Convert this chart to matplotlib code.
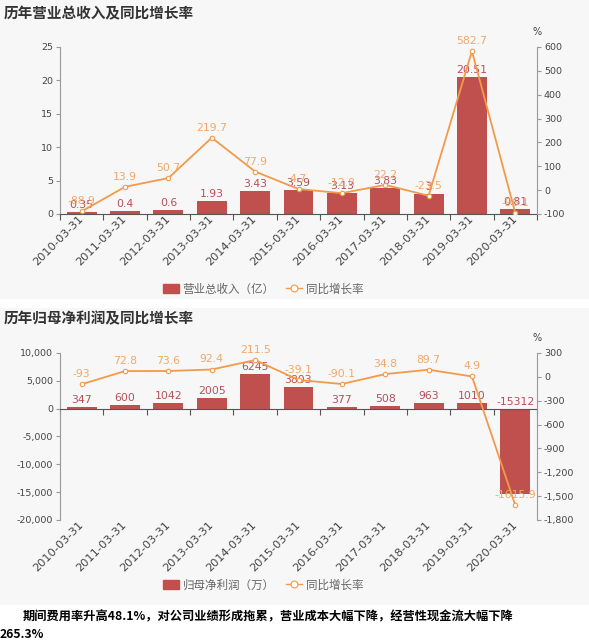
import matplotlib
matplotlib.use("Agg")
import matplotlib.pyplot as plt
import matplotlib.patches as mpatches
import matplotlib.transforms as mtransforms
from matplotlib.lines import Line2D
from matplotlib.ticker import FuncFormatter
import numpy as np

plt.rcParams['font.family'] = ['DejaVu Sans', 'Noto Sans CJK SC']

dates = ["2010-03-31", "2011-03-31", "2012-03-31", "2013-03-31", "2014-03-31",
         "2015-03-31", "2016-03-31", "2017-03-31", "2018-03-31", "2019-03-31",
         "2020-03-31"]
revenue = [0.35, 0.4, 0.6, 1.93, 3.43, 3.59, 3.13, 3.83, 3.0, 20.51, 0.81]
revenue_labels = ["0.35", "0.4", "0.6", "1.93", "3.43", "3.59", "3.13", "3.83", "3", "20.51", "0.81"]
revenue_growth = [-88.9, 13.9, 50.7, 219.7, 77.9, 4.7, -12.8, 22.2, -23.5, 582.7, -96.1]
profit = [347, 600, 1042, 2005, 6245, 3803, 377, 508, 963, 1010, -15312]
profit_growth = [-93, 72.8, 73.6, 92.4, 211.5, -39.1, -90.1, 34.8, 89.7, 4.9, -1615.9]

title1 = "历年营业总收入及同比增长率"
title2 = "历年归母净利润及同比增长率"
legend_bar1 = "营业总收入（亿）"
legend_bar2 = "归母净利润（万）"
legend_line = "同比增长率"
note_line1 = "期间费用率升高48.1%，对公司业绩形成拖累，营业成本大幅下降，经营性现金流大幅下降"
note_line2 = "265.3%"

BAR = "#c0504d"
BAR_TXT = "#b5505a"
LINE = "#f29a4a"
LINE_TXT = "#f2a86a"
SPINE = "#999999"
TICK_TXT = "#444444"
PANEL = "#f7f7f7"

W, H = 589, 642
fig = plt.figure(figsize=(W / 100, H / 100), dpi=100)
fig.patch.set_facecolor("white")

# panel backgrounds
fig.patches.append(mpatches.Rectangle((0, 1 - 299 / H), 1, 299 / H, transform=fig.transFigure,
                                      facecolor=PANEL, edgecolor="none", zorder=-10))
fig.patches.append(mpatches.Rectangle((0, 1 - 605 / H), 1, (605 - 308) / H, transform=fig.transFigure,
                                      facecolor=PANEL, edgecolor="none", zorder=-10))

x = np.arange(len(dates))
comma = FuncFormatter(lambda v, p: f"{int(v):,}")
shift = mtransforms.ScaledTranslation(-3 / 100, -4 / 100, fig.dpi_scale_trans)


def make_axes(top_px, bottom_px):
    ax = fig.add_axes([60 / W, 1 - bottom_px / H, (537 - 60) / W, (bottom_px - top_px) / H])
    ax.set_facecolor("none")
    ax2 = ax.twinx()
    ax2.set_facecolor("none")
    for a in (ax, ax2):
        a.spines['top'].set_visible(False)
        a.spines['left'].set_color(SPINE)
        a.spines['right'].set_color(SPINE)
        a.spines['bottom'].set_color("#555555")
        a.tick_params(axis='y', labelsize=6.8, colors=SPINE, labelcolor=TICK_TXT, length=3, width=0.8, pad=2)
    ax.spines['right'].set_visible(False)
    ax2.spines['left'].set_visible(False)
    ax2.spines['bottom'].set_visible(False)
    ax.set_xlim(-0.5, len(dates) - 0.5)
    return ax, ax2


def draw(ax, ax2, vals, vlabels, growth, ylim, y2lim, yticks, y2ticks, fmt_left, fmt_right):
    ax.bar(x, vals, width=0.69, color=BAR, zorder=2)
    ax.set_ylim(*ylim)
    ax.set_yticks(yticks)
    ax.yaxis.set_major_formatter(fmt_left)
    span = ylim[1] - ylim[0]
    for xi, v, lab in zip(x, vals, vlabels):
        ax.text(xi, max(v, 0) + span * 0.012, lab, ha='center', va='bottom',
                fontsize=7.8, color=BAR_TXT, zorder=5)
    ax2.plot(x, growth, color=LINE, lw=1.3, marker='o', ms=3.2, mfc='white', mec=LINE,
             mew=0.8, zorder=4)
    ax2.set_ylim(*y2lim)
    ax2.set_yticks(y2ticks)
    ax2.yaxis.set_major_formatter(fmt_right)
    span2 = y2lim[1] - y2lim[0]
    for xi, g in zip(x, growth):
        ax2.text(xi, g + span2 * 0.03, f"{g:g}", ha='center', va='bottom',
                 fontsize=7.8, color=LINE_TXT, zorder=6)
    ax2.text(1.0, 1.06, "%", transform=ax2.transAxes, ha='center', va='bottom',
             fontsize=7, color=TICK_TXT)


def style_xlabels(labels):
    for t in labels:
        t.set_transform(t.get_transform() + shift)


# ---------------- chart 1 ----------------
ax, ax2 = make_axes(47, 214)
draw(ax, ax2, revenue, revenue_labels, revenue_growth, (0, 25), (-100, 600),
     [0, 5, 10, 15, 20, 25], [-100, 0, 100, 200, 300, 400, 500, 600],
     FuncFormatter(lambda v, p: f"{v:g}"), FuncFormatter(lambda v, p: f"{v:g}"))
ax.set_xticks(x)
lbls = ax.set_xticklabels(dates, rotation=45, ha='right', va='center', rotation_mode='anchor',
                          fontsize=8.2, color=TICK_TXT)
style_xlabels(lbls)
ax.tick_params(axis='x', which='major', length=0, pad=2)
ax.set_xticks(np.arange(-0.5, len(dates), 1.0), minor=True)
ax.tick_params(axis='x', which='minor', length=4, color="#555555", width=0.8)
fig.text(4 / W, 1 - 13 / H, title1, fontsize=10.5, fontweight='bold', color="#333333",
         family=['Noto Sans CJK SC'], va='center', ha='left')

handles = [mpatches.Patch(color=BAR), Line2D([0], [0], color=LINE, lw=1, marker='o', ms=5,
                                            mfc='white', mec=LINE, mew=0.8)]
fig.legend(handles, [legend_bar1, legend_line], loc='center', bbox_to_anchor=(263 / W, 1 - 289 / H),
           ncol=2, frameon=False, prop={'family': 'Noto Sans CJK SC', 'size': 8.3},
           labelcolor="#666666", handlelength=1.4, handleheight=0.9, columnspacing=1.0,
           handletextpad=0.3)

# ---------------- chart 2 ----------------
bx, bx2 = make_axes(353, 520)
draw(bx, bx2, profit, [str(v) for v in profit], profit_growth, (-20000, 10000), (-1800, 300),
     [10000, 5000, 0, -5000, -10000, -15000, -20000],
     [300, 0, -300, -600, -900, -1200, -1500, -1800], comma, comma)
bx.spines['bottom'].set_position(('data', 0))
bx.set_xticks(np.arange(-0.5, len(dates), 1.0))
bx.set_xticklabels([])
bx.tick_params(axis='x', length=4, color="#555555", width=0.8)
sec = bx.secondary_xaxis('bottom')
sec.set_xticks(x)
lbls2 = sec.set_xticklabels(dates, rotation=45, ha='right', va='center', rotation_mode='anchor',
                            fontsize=8.2, color=TICK_TXT)
style_xlabels(lbls2)
sec.tick_params(axis='x', length=0, pad=2)
sec.spines['bottom'].set_visible(False)
fig.text(4 / W, 1 - 318 / H, title2, fontsize=10.5, fontweight='bold', color="#333333",
         family=['Noto Sans CJK SC'], va='center', ha='left')
fig.legend(handles, [legend_bar2, legend_line], loc='center', bbox_to_anchor=(263 / W, 1 - 585 / H),
           ncol=2, frameon=False, prop={'family': 'Noto Sans CJK SC', 'size': 8.3},
           labelcolor="#666666", handlelength=1.4, handleheight=0.9, columnspacing=1.0,
           handletextpad=0.3)

# bottom note
fig.text(23 / W, 1 - 617 / H, note_line1, fontsize=8.8, fontweight='bold', color="black",
         family=['Noto Sans CJK SC'], va='center', ha='left')
fig.text(0, 1 - 635 / H, note_line2, fontsize=8.8, fontweight='bold', color="black",
         family=['Noto Sans CJK SC'], va='center', ha='left')

fig.savefig("out.png", dpi=100, facecolor="white")
